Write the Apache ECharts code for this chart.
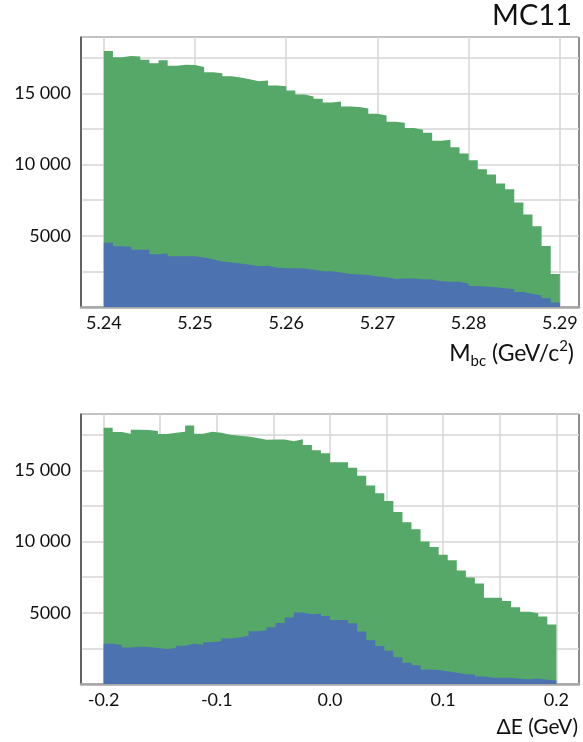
<!DOCTYPE html>
<html>
<head>
<meta charset="utf-8">
<title>MC11</title>
<script src="https://cdn.jsdelivr.net/npm/echarts@6/dist/echarts.min.js"></script>
<style>
  html, body { margin: 0; padding: 0; background: #ffffff; }
  #chart { width: 583px; height: 742px; }
</style>
</head>
<body>
<div id="chart"></div>
<script>
// Histogram ranges (bin edges span these, 50 equal bins each)
const mbcRange = [5.24, 5.29];
const deRange = [-0.2, 0.2];

// M_bc: total candidates per bin, and the signal component
const mbcTotal = [
  17970, 17520, 17620, 17590, 17360, 17100, 17310, 16940, 17010, 16990,
  16850, 16470, 16400, 16190, 16100, 15980, 15840, 15890, 15540, 15490,
  15190, 14910, 14770, 14610, 14350, 14420, 14070, 14030, 13930, 13560,
  13440, 13000, 12930, 12560, 12440, 12230, 11670, 11740, 11210, 10770,
  10300, 9670, 9300, 8670, 8270, 7340, 6500, 5660, 4290, 2310
];
const mbcSignal = [
  4510, 4270, 4230, 4010, 4010, 3710, 3760, 3570, 3570, 3570,
  3470, 3330, 3190, 3120, 3050, 2960, 2860, 2890, 2750, 2720,
  2720, 2700, 2610, 2510, 2510, 2420, 2320, 2280, 2250, 2140,
  2090, 1970, 2000, 2000, 1950, 1930, 1810, 1780, 1780, 1640,
  1480, 1430, 1390, 1310, 1240, 1060, 920, 800, 610, 310
];

// Delta E: total candidates per bin, and the signal component
const deTotal = [
  17980, 17680, 17560, 17840, 17820, 17750, 17540, 17630, 17700, 18140,
  17560, 17700, 17630, 17490, 17420, 17370, 17260, 17140, 17160, 17160,
  17040, 17180, 16780, 16410, 16200, 15570, 15570, 15170, 14610, 13930,
  13390, 12850, 12080, 11350, 10860, 10010, 9620, 9080, 8680, 7970,
  7480, 7060, 6050, 6050, 5820, 5390, 5070, 4970, 4740, 4170
];
const deSignal = [
  2830, 2740, 2570, 2620, 2590, 2520, 2450, 2520, 2690, 2830,
  2760, 2930, 3020, 3190, 3260, 3380, 3710, 3780, 3980, 4280,
  4670, 5020, 4900, 4930, 4780, 4500, 4500, 4260, 3690, 3070,
  2670, 2330, 1880, 1500, 1310, 1020, 980, 900, 790, 690,
  670, 520, 430, 430, 430, 360, 330, 380, 290, 240
];

// Axis ticks: gridlines at every tick, labels only where listed
const yTickStep = 2500;
const yLabelStep = 5000;
const mbcTicks = [5.24, 5.25, 5.26, 5.27, 5.28, 5.29];
const deTicks = [-0.2, -0.15, -0.1, -0.05, 0.0, 0.05, 0.1, 0.15, 0.2];
const deTickLabels = [-0.2, -0.1, 0.0, 0.1, 0.2];

const GREEN = '#55a868';
const BLUE = '#4c72b0';
const GRID = '#d6d6d6';
const FONT = 'Lato';

// Turn per-bin counts into step points: one point per left bin edge,
// plus the right edge of the last bin so the final step is closed.
function stepPoints(range, counts) {
  const n = counts.length;
  const w = (range[1] - range[0]) / n;
  const pts = counts.map((c, i) => [range[0] + i * w, c]);
  pts.push([range[1], counts[n - 1]]);
  return pts;
}

function fmtCount(v) {
  if (v <= 0 || v % yLabelStep !== 0) return '';
  if (v < 10000) return String(v);
  return String(v).replace(/\B(?=(\d{3})+(?!\d))/g, ' ');
}

function histSeries(idx, data, color) {
  return {
    type: 'line',
    xAxisIndex: idx,
    yAxisIndex: idx,
    step: 'end',
    data: data,
    showSymbol: false,
    symbol: 'none',
    silent: true,
    animation: false,
    lineStyle: { width: 0, color: color },
    itemStyle: { color: color },
    areaStyle: { color: color, opacity: 1 }
  };
}

const yAxisCommon = {
  type: 'value',
  min: 0,
  max: 18950,
  interval: yTickStep,
  axisLine: { show: true, onZero: false, lineStyle: { color: '#555555', width: 1.5 } },
  axisTick: { show: false },
  axisLabel: {
    formatter: fmtCount,
    fontFamily: FONT,
    fontSize: 18,
    color: '#111111',
    margin: 10
  },
  splitLine: { show: true, lineStyle: { color: GRID, width: 1.5 } }
};

const chart = echarts.init(document.getElementById('chart'), null, { renderer: 'canvas' });

chart.setOption({
  animation: false,
  backgroundColor: '#ffffff',
  grid: [
    { left: 81, top: 37, width: 498, height: 270, show: true, borderColor: '#1a1a1a', borderWidth: 1 },
    { left: 81, top: 414, width: 498, height: 270, show: true, borderColor: '#1a1a1a', borderWidth: 1 }
  ],
  xAxis: [
    {
      type: 'value',
      gridIndex: 0,
      min: 5.2375,
      max: 5.2921,
      axisLine: { show: true, onZero: false, lineStyle: { color: '#a6a6a6', width: 2.5 } },
      axisTick: { show: false, customValues: mbcTicks },
      axisLabel: {
        customValues: mbcTicks,
        formatter: v => v.toFixed(2),
        fontFamily: FONT, fontSize: 18, color: '#111111', margin: 7
      },
      splitLine: { show: true, lineStyle: { color: GRID, width: 1.5 } }
    },
    {
      type: 'value',
      gridIndex: 1,
      min: -0.22,
      max: 0.22,
      axisLine: { show: true, onZero: false, lineStyle: { color: '#a6a6a6', width: 2.5 } },
      axisTick: { show: false, customValues: deTicks },
      axisLabel: {
        customValues: deTickLabels,
        formatter: v => (Math.round(v * 10) / 10).toFixed(1),
        fontFamily: FONT, fontSize: 18, color: '#111111', margin: 7
      },
      splitLine: { show: true, lineStyle: { color: GRID, width: 1.5 } }
    }
  ],
  yAxis: [
    Object.assign({ gridIndex: 0 }, yAxisCommon),
    Object.assign({ gridIndex: 1 }, yAxisCommon)
  ],
  series: [
    histSeries(0, stepPoints(mbcRange, mbcTotal), GREEN),
    histSeries(0, stepPoints(mbcRange, mbcSignal), BLUE),
    histSeries(1, stepPoints(deRange, deTotal), GREEN),
    histSeries(1, stepPoints(deRange, deSignal), BLUE)
  ],
  graphic: [
    {
      type: 'text', x: 572, y: 16,
      style: { text: 'MC11', fontFamily: FONT, fontSize: 29, fill: '#111111', align: 'right', verticalAlign: 'middle' }
    },
    {
      type: 'text', x: 574, y: 354,
      style: {
        text: '{m|M}{s|bc}{m| (GeV/c}{p|2}{m|)}',
        fontFamily: FONT,
        fill: '#111111',
        align: 'right',
        verticalAlign: 'middle',
        rich: {
          m: { fontFamily: FONT, fontSize: 23, lineHeight: 30, verticalAlign: 'middle', fill: '#111111' },
          s: { fontFamily: FONT, fontSize: 15, lineHeight: 15, verticalAlign: 'bottom', fill: '#111111' },
          p: { fontFamily: FONT, fontSize: 15, lineHeight: 15, verticalAlign: 'top', fill: '#111111' }
        }
      }
    },
    {
      type: 'text', x: 578, y: 727,
      style: { text: 'ΔE (GeV)', fontFamily: FONT, fontSize: 21, fill: '#111111', align: 'right', verticalAlign: 'middle' }
    }
  ]
});
</script>
</body>
</html>
